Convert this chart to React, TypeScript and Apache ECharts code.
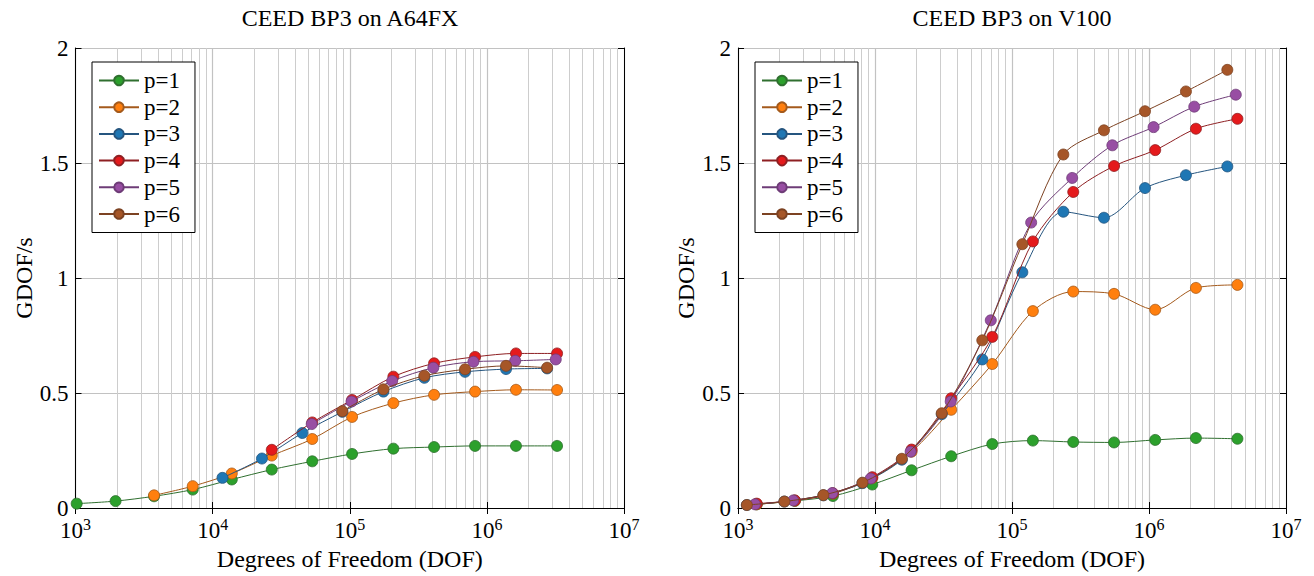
import React, { useEffect, useRef } from "react";
import * as echarts from "echarts";

const FONT = "Liberation Serif";

const seriesNames = ["p=1", "p=2", "p=3", "p=4", "p=5", "p=6"];
const markerColors = ["#2ca02c", "#ff7f0e", "#1f77b4", "#e41a1c", "#984ea3", "#a65628"];
const lineColors = ["#2f6f2f", "#a45a1c", "#25557f", "#8e1f22", "#6e3c77", "#7c4222"];

// ---- A64FX (left) ----
const a64DofP1 = [1020, 1960, 3740, 7160, 13800, 27000, 53300, 104000, 208000, 412000, 820000, 1630000, 3250000];
const a64GdofP1 = [0.019, 0.030, 0.051, 0.080, 0.124, 0.167, 0.203, 0.235, 0.258, 0.265, 0.270, 0.270, 0.270];
const a64DofP2 = [3740, 7160, 13800, 27000, 53300, 104000, 208000, 412000, 820000, 1630000, 3250000];
const a64GdofP2 = [0.055, 0.095, 0.150, 0.228, 0.300, 0.396, 0.456, 0.492, 0.506, 0.514, 0.513];
const a64DofP3 = [11800, 22900, 45100, 88300, 176000, 350000, 693000, 1380000, 2750000];
const a64GdofP3 = [0.131, 0.215, 0.326, 0.418, 0.506, 0.566, 0.592, 0.604, 0.607];
const a64DofP4 = [27000, 53300, 104000, 208000, 412000, 820000, 1630000, 3250000];
const a64GdofP4 = [0.253, 0.372, 0.470, 0.571, 0.629, 0.657, 0.672, 0.672];
const a64DofP5 = [52800, 103000, 204000, 407000, 798000, 1610000, 3180000];
const a64GdofP5 = [0.365, 0.463, 0.552, 0.610, 0.636, 0.640, 0.646];
const a64DofP6 = [88300, 176000, 350000, 693000, 1380000, 2750000];
const a64GdofP6 = [0.421, 0.516, 0.575, 0.603, 0.618, 0.610];

// ---- V100 (right) ----
const v100DofP1 = [1370, 2600, 4930, 9550, 18500, 36000, 71800, 142000, 280000, 556000, 1110000, 2200000, 4420000];
const v100GdofP1 = [0.016, 0.031, 0.052, 0.102, 0.164, 0.225, 0.278, 0.293, 0.287, 0.285, 0.296, 0.304, 0.301];
const v100DofP2 = [1370, 2600, 4930, 9550, 18500, 36000, 71800, 142000, 280000, 556000, 1110000, 2200000, 4420000];
const v100GdofP2 = [0.016, 0.032, 0.062, 0.130, 0.245, 0.427, 0.626, 0.856, 0.941, 0.931, 0.862, 0.957, 0.970];
const v100DofP3 = [1160, 2180, 4200, 8100, 15700, 30700, 60700, 119000, 237000, 469000, 935000, 1860000, 3730000];
const v100GdofP3 = [0.013, 0.028, 0.055, 0.108, 0.210, 0.408, 0.646, 1.025, 1.288, 1.262, 1.391, 1.447, 1.485];
const v100DofP4 = [1370, 2600, 4930, 9550, 18500, 36000, 71800, 142000, 280000, 556000, 1110000, 2200000, 4420000];
const v100GdofP4 = [0.019, 0.033, 0.064, 0.134, 0.254, 0.477, 0.744, 1.159, 1.374, 1.487, 1.556, 1.649, 1.692];
const v100DofP5 = [1330, 2530, 4880, 9300, 18200, 35700, 70000, 138000, 275000, 540000, 1080000, 2140000, 4300000];
const v100GdofP5 = [0.016, 0.033, 0.065, 0.128, 0.245, 0.463, 0.816, 1.241, 1.435, 1.577, 1.656, 1.745, 1.797];
const v100DofP6 = [1160, 2180, 4200, 8100, 15700, 30700, 60700, 119000, 237000, 469000, 935000, 1860000, 3730000];
const v100GdofP6 = [0.013, 0.028, 0.056, 0.110, 0.214, 0.412, 0.729, 1.147, 1.537, 1.642, 1.725, 1.811, 1.905];

const titles = ["CEED BP3 on A64FX", "CEED BP3 on V100"];
const xAxisName = "Degrees of Freedom (DOF)";
const yAxisName = "GDOF/s";
const decadeStarts = [1e3, 1e4, 1e5, 1e6];
const minorMultipliers = [2, 3, 4, 5, 6, 7, 8, 9];

const a64Sets = [
  [a64DofP1, a64GdofP1], [a64DofP2, a64GdofP2], [a64DofP3, a64GdofP3],
  [a64DofP4, a64GdofP4], [a64DofP5, a64GdofP5], [a64DofP6, a64GdofP6],
];
const v100Sets = [
  [v100DofP1, v100GdofP1], [v100DofP2, v100GdofP2], [v100DofP3, v100GdofP3],
  [v100DofP4, v100GdofP4], [v100DofP5, v100GdofP5], [v100DofP6, v100GdofP6],
];

const zip = (xs: number[], ys: number[]) => xs.map((x, i) => [x, ys[i]]);

export default function App() {
  const ref = useRef<HTMLDivElement>(null);
  useEffect(() => {
    const chart = echarts.init(ref.current!, null, { renderer: "svg" });
    const gridDefs = [
      { left: 75.5, top: 48, width: 548.5, height: 461 },
      { left: 738, top: 48, width: 548, height: 461 },
    ];
    const minorValues: number[] = [];
    decadeStarts.forEach((d) => minorMultipliers.forEach((k) => minorValues.push(k * d)));

    const xAxes: any[] = [];
    const yAxes: any[] = [];
    [0, 1].forEach((g) => {
      xAxes.push({
        type: "log",
        logBase: 10,
        gridIndex: g,
        min: 1e3,
        max: 1e7,
        position: "bottom",
        name: xAxisName,
        nameLocation: "middle",
        nameGap: 39,
        nameTextStyle: { fontFamily: FONT, fontSize: 24, color: "#000" },
        axisLine: { show: true, lineStyle: { color: "#000", width: 1 } },
        axisTick: { show: true, inside: true, length: 6, lineStyle: { color: "#000" } },
        axisLabel: {
          margin: 8,
          formatter: (v: number) => "{b|10}{s|" + Math.round(Math.log10(v)) + "}",
          rich: {
            b: { fontFamily: FONT, fontSize: 23, color: "#000", lineHeight: 28 },
            s: { fontFamily: FONT, fontSize: 16, color: "#000", lineHeight: 14, verticalAlign: "top" },
          },
        },
        splitLine: { show: true, lineStyle: { color: "#c2c2c2", width: 1.2 } },
      });
      yAxes.push({
        type: "value",
        gridIndex: g,
        min: 0,
        max: 2,
        interval: 0.5,
        position: "left",
        name: yAxisName,
        nameLocation: "middle",
        nameRotate: 90,
        nameGap: 38,
        nameTextStyle: { fontFamily: FONT, fontSize: 24, color: "#000" },
        axisLine: { show: true, lineStyle: { color: "#000", width: 1 } },
        axisTick: { show: true, inside: true, length: 6, lineStyle: { color: "#000" } },
        axisLabel: {
          margin: 7,
          fontFamily: FONT,
          fontSize: 23,
          lineHeight: 16,
          color: "#000",
          formatter: (v: number) => String(v),
        },
        splitLine: { show: true, lineStyle: { color: "#c2c2c2", width: 1 } },
      });
    });
    [0, 1].forEach((g) => {
      xAxes.push({
        type: "log",
        logBase: 10,
        gridIndex: g,
        min: 1e3,
        max: 1e7,
        position: "top",
        axisLine: { show: true, lineStyle: { color: "#000", width: 1 } },
        axisTick: { show: true, inside: true, length: 6, lineStyle: { color: "#000" } },
        axisLabel: { show: false },
        splitLine: { show: false },
      });
      yAxes.push({
        type: "value",
        gridIndex: g,
        min: 0,
        max: 2,
        interval: 0.5,
        position: "right",
        axisLine: { show: true, lineStyle: { color: "#000", width: 1 } },
        axisTick: { show: true, inside: true, length: 6, lineStyle: { color: "#000" } },
        axisLabel: { show: false },
        splitLine: { show: false },
      });
    });

    const series: any[] = [];
    [0, 1].forEach((g) => {
      series.push({
        type: "line",
        name: "minor-grid-" + g,
        xAxisIndex: g,
        yAxisIndex: g,
        data: [],
        silent: true,
        z: 1,
        markLine: {
          silent: true,
          z: 1,
          symbol: ["none", "none"],
          label: { show: false },
          emphasis: { disabled: true },
          lineStyle: { color: "#cdcdcd", width: 1, type: "solid" },
          data: minorValues.map((v) => ({ xAxis: v })),
        },
      });
    });
    [a64Sets, v100Sets].forEach((sets, g) => {
      sets.forEach(([xs, ys], i) => {
        series.push({
          type: "line",
          name: seriesNames[i],
          xAxisIndex: g,
          yAxisIndex: g,
          data: zip(xs as number[], ys as number[]),
          smooth: 0.3,
          symbol: "circle",
          symbolSize: 11,
          z: 3 + i,
          lineStyle: { color: lineColors[i], width: 1 },
          itemStyle: { color: markerColors[i], borderColor: lineColors[i], borderWidth: 0.8 },
          emphasis: { disabled: true },
        });
      });
    });

    const legendBase = {
      data: seriesNames,
      orient: "vertical",
      top: 62,
      padding: [7, 15, 7, 6],
      itemWidth: 40,
      itemHeight: 12,
      itemGap: 3.7,
      borderColor: "#000",
      borderWidth: 1,
      borderRadius: 0,
      backgroundColor: "#fff",
      selectedMode: false,
      textStyle: { fontFamily: FONT, fontSize: 23, color: "#000", lineHeight: 20 },
    };

    chart.setOption({
      animation: false,
      backgroundColor: "#fff",
      textStyle: { fontFamily: FONT },
      grid: gridDefs.map((d) => ({ ...d, show: false, containLabel: false })),
      xAxis: xAxes,
      yAxis: yAxes,
      legend: [
        { ...legendBase, left: 92 },
        { ...legendBase, left: 755 },
      ],
      graphic: [
        {
          type: "text",
          x: 350,
          y: 6,
          style: { text: titles[0], fontFamily: FONT, fontSize: 24, fill: "#000", align: "center", verticalAlign: "top" },
        },
        {
          type: "text",
          x: 1012,
          y: 6,
          style: { text: titles[1], fontFamily: FONT, fontSize: 24, fill: "#000", align: "center", verticalAlign: "top" },
        },
      ],
      series,
    });
    return () => chart.dispose();
  }, []);
  return (
    <div
      ref={ref}
      style={{ position: "fixed", left: 0, top: 0, width: 1314, height: 576, background: "#fff" }}
    />
  );
}
